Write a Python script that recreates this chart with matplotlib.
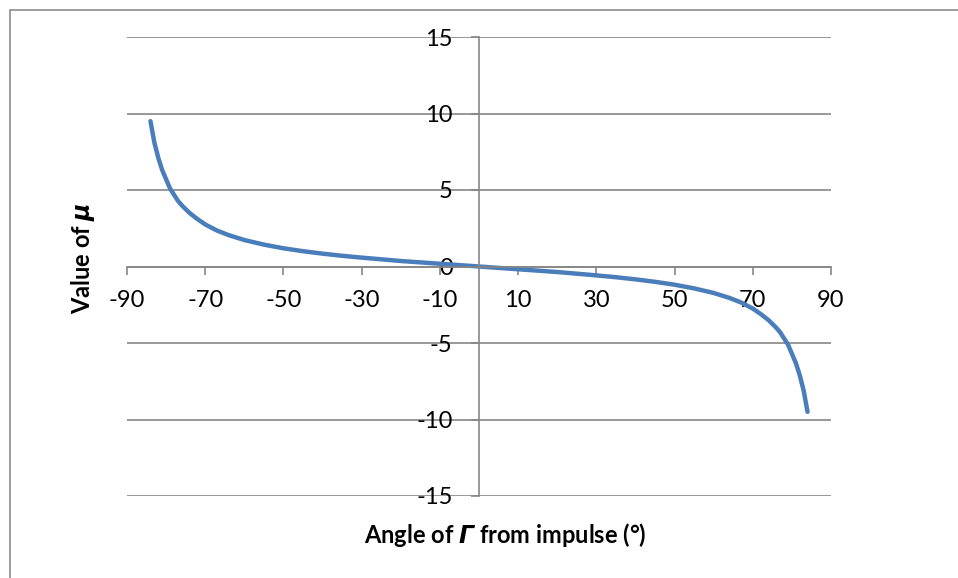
import matplotlib
matplotlib.use("Agg")
import matplotlib.pyplot as plt
from matplotlib.patches import Rectangle

plt.rcParams['font.family'] = ['Lato', 'DejaVu Sans']
plt.rcParams['mathtext.fontset'] = 'custom'
plt.rcParams['mathtext.bfit'] = 'DejaVu Sans:italic:bold'
plt.rcParams['mathtext.it'] = 'DejaVu Sans:italic'

# values
angle = [-84, -83, -82, -81, -80, -79, -78, -77, -76, -74, -72, -70, -67, -64,
         -60, -55, -50, -45, -40, -35, -30, -25, -20, -15, -10, -5, 0,
         5, 10, 15, 20, 25, 30, 35, 40, 45, 50, 55, 60, 64, 67, 70,
         72, 74, 76, 77, 78, 79, 80, 81, 82, 83, 84]
mu = [9.5, 8.1, 7.1, 6.3, 5.7, 5.1, 4.7, 4.3, 4.0, 3.5, 3.1, 2.75, 2.35, 2.05,
      1.73, 1.43, 1.19, 1.0, 0.84, 0.70, 0.58, 0.47, 0.36, 0.27, 0.18, 0.09, 0.0,
      -0.09, -0.18, -0.27, -0.36, -0.47, -0.58, -0.70, -0.84, -1.0, -1.19, -1.43, -1.73, -2.05, -2.35, -2.75,
      -3.1, -3.5, -4.0, -4.3, -4.7, -5.1, -5.7, -6.3, -7.1, -8.1, -9.5]

xticks = [-90, -70, -50, -30, -10, 10, 30, 50, 70, 90]
yticks = [-15, -10, -5, 0, 5, 10, 15]

fig = plt.figure(figsize=(9.58, 5.78), dpi=100)
fig.patches.append(Rectangle((10 / 958, -0.1), 1.0, 0.1 + 568 / 578,
                             transform=fig.transFigure, fill=False,
                             edgecolor='#8c8c8c', linewidth=1.2))

ax = fig.add_axes([127 / 958, 82 / 578, 704 / 958, 459 / 578])
ax.plot(angle, mu, color='#4a7ebb', linewidth=3.2, solid_capstyle='round')

ax.set_xlim(-90, 90)
ax.set_ylim(-15, 15)
ax.set_xticks(xticks)
ax.set_yticks(yticks)
ax.set_xticklabels([str(v) for v in xticks])
ax.set_yticklabels([str(v) for v in yticks])

for s in ['top', 'right']:
    ax.spines[s].set_visible(False)
ax.spines['left'].set_position(('data', 0))
ax.spines['bottom'].set_position(('data', 0))
for s in ['left', 'bottom']:
    ax.spines[s].set_color('#868686')
    ax.spines[s].set_linewidth(1.2)

ax.yaxis.grid(True, color='#868686', linewidth=1.2)
ax.set_axisbelow(True)
ax.tick_params(axis='x', direction='out', length=6, width=1.2, color='#868686',
               labelsize=17, pad=11)
ax.tick_params(axis='y', direction='out', length=6, width=1.2, color='#868686',
               labelsize=17, pad=13)

fig.text(505 / 958, 1 - 535 / 578, r'Angle of $\mathbfit{\Gamma}$ from impulse (°)',
         ha='center', va='center', fontsize=17, fontweight='bold')
fig.text(83 / 958, 1 - 258 / 578, r'Value of $\mathbfit{\mu}$', rotation=90,
         ha='center', va='center', fontsize=17, fontweight='bold')

fig.savefig('out.png', dpi=100)
